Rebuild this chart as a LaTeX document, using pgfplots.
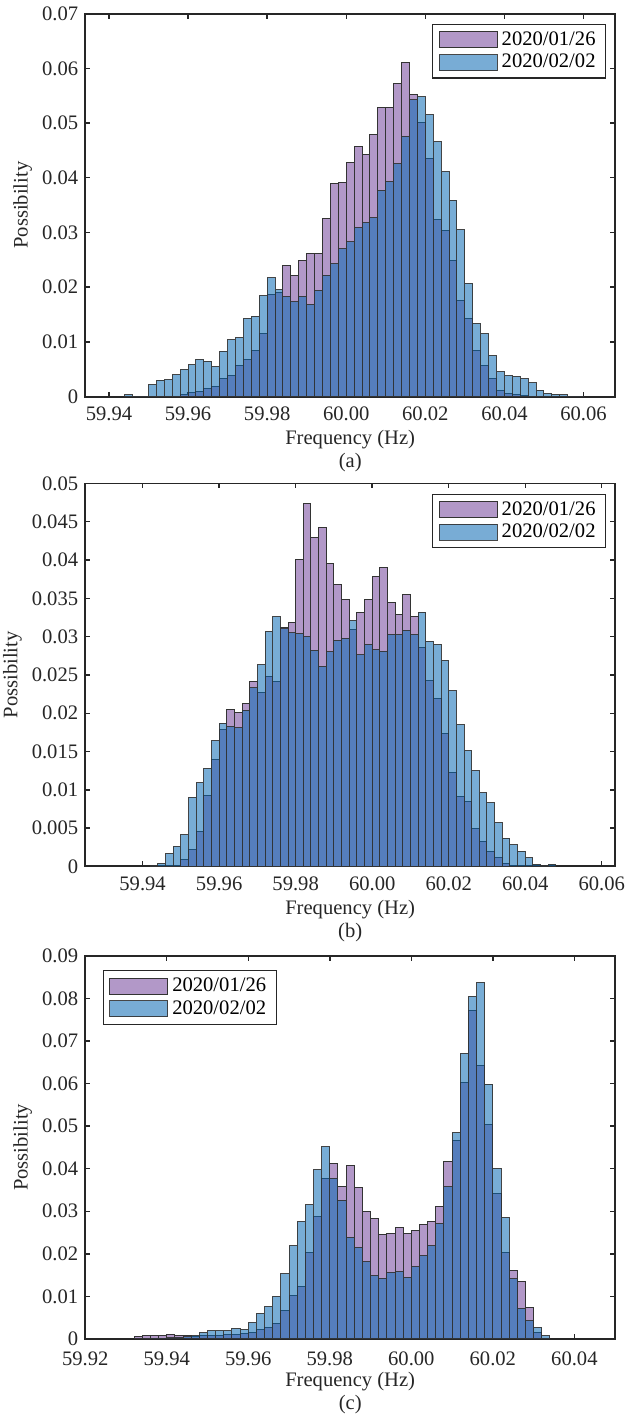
\documentclass[border=0pt]{standalone}
\usepackage{fontspec}
\setmainfont{Liberation Serif}
\usepackage{pgfplots}
\pgfplotsset{compat=1.18}
\usepackage{pgfplotstable}

\definecolor{purp}{RGB}{178,152,200}
\definecolor{blu}{RGB}{10,105,180}
\definecolor{axc}{RGB}{38,38,38}

% panel (a): left bin edge, 2020/01/26, 2020/02/02
\pgfplotstableread{
x p b
59.944 0 0.0003
59.946 0 0.0001
59.948 0 0.0001
59.950 0 0.0022
59.952 0 0.0030
59.954 0 0.0031
59.956 0 0.0040
59.958 0.0004 0.0050
59.960 0.0007 0.0058
59.962 0.0010 0.0068
59.964 0.0014 0.0065
59.966 0.0019 0.0055
59.968 0.0033 0.0083
59.970 0.0038 0.0104
59.972 0.0057 0.0108
59.974 0.0068 0.0143
59.976 0.0085 0.0147
59.978 0.0115 0.0184
59.980 0.0187 0.0217
59.982 0.0190 0.0195
59.984 0.0240 0.0183
59.986 0.0221 0.0173
59.988 0.0249 0.0183
59.990 0.0262 0.0169
59.992 0.0261 0.0194
59.994 0.0325 0.0222
59.996 0.0389 0.0243
59.998 0.0391 0.0270
60.000 0.0428 0.0283
60.002 0.0458 0.0309
60.004 0.0442 0.0318
60.006 0.0479 0.0327
60.008 0.0528 0.0377
60.010 0.0528 0.0393
60.012 0.0572 0.0426
60.014 0.0610 0.0476
60.016 0.0552 0.0543
60.018 0.0501 0.0548
60.020 0.0436 0.0515
60.022 0.0324 0.0466
60.024 0.0304 0.0411
60.026 0.0248 0.0359
60.028 0.0175 0.0305
60.030 0.0143 0.0207
60.032 0.0085 0.0134
60.034 0.0057 0.0115
60.036 0.0033 0.0075
60.038 0.0012 0.0045
60.040 0.0006 0.0038
60.042 0.0003 0.0037
60.044 0.0002 0.0033
60.046 0 0.0025
60.048 0 0.0012
60.050 0 0.0006
60.052 0 0.0004
60.054 0 0.0003
60.056 0 0.0001
60.058 0 0.0001
60.060 0 0
}\dataa

% panel (b)
\pgfplotstableread{
x p b
59.942 0 0.0001
59.944 0 0.0004
59.946 0 0.0017
59.948 0 0.0026
59.950 0.0009 0.0041
59.952 0.0022 0.0090
59.954 0.0046 0.0109
59.956 0.0092 0.0128
59.958 0.0139 0.0164
59.960 0.0179 0.0187
59.962 0.0205 0.0183
59.964 0.0201 0.0181
59.966 0.0213 0.0204
59.968 0.0241 0.0233
59.970 0.0227 0.0263
59.972 0.0248 0.0307
59.974 0.0242 0.0326
59.976 0.0312 0.0310
59.978 0.0318 0.0305
59.980 0.0401 0.0304
59.982 0.0474 0.0300
59.984 0.0429 0.0282
59.986 0.0443 0.0261
59.988 0.0395 0.0280
59.990 0.0368 0.0295
59.992 0.0349 0.0298
59.994 0.0309 0.0321
59.996 0.0331 0.0276
59.998 0.0349 0.0290
60.000 0.0378 0.0283
60.002 0.0390 0.0281
60.004 0.0345 0.0303
60.006 0.0329 0.0303
60.008 0.0355 0.0308
60.010 0.0326 0.0303
60.012 0.0286 0.0332
60.014 0.0243 0.0294
60.016 0.0219 0.0290
60.018 0.0174 0.0269
60.020 0.0123 0.0229
60.022 0.0091 0.0185
60.024 0.0085 0.0151
60.026 0.0049 0.0125
60.028 0.0033 0.0096
60.030 0.0020 0.0083
60.032 0.0011 0.0057
60.034 0.0004 0.0037
60.036 0 0.0028
60.038 0 0.0020
60.040 0 0.0011
60.042 0 0.0003
60.044 0 0.0001
60.046 0 0.0003
60.048 0 0
}\datab

% panel (c)
\pgfplotstableread{
x p b
59.932 0.0005 0
59.934 0.0008 0.0001
59.936 0.0007 0.0002
59.938 0.0008 0.0002
59.940 0.0010 0.0003
59.942 0.0008 0.0004
59.944 0.0008 0.0005
59.946 0.0006 0.0008
59.948 0.0007 0.0015
59.950 0.0008 0.0019
59.952 0.0009 0.0019
59.954 0.0010 0.0019
59.956 0.0011 0.0025
59.958 0.0013 0.0022
59.960 0.0016 0.0038
59.962 0.0023 0.0060
59.964 0.0026 0.0076
59.966 0.0037 0.0100
59.968 0.0067 0.0153
59.970 0.0102 0.0219
59.972 0.0123 0.0276
59.974 0.0204 0.0315
59.976 0.0287 0.0398
59.978 0.0377 0.0452
59.980 0.0413 0.0378
59.982 0.0358 0.0326
59.984 0.0407 0.0239
59.986 0.0356 0.0215
59.988 0.0299 0.0182
59.990 0.0282 0.0149
59.992 0.0245 0.0143
59.994 0.0248 0.0157
59.996 0.0262 0.0158
59.998 0.0247 0.0145
60.000 0.0256 0.0170
60.002 0.0270 0.0196
60.004 0.0276 0.0219
60.006 0.0312 0.0272
60.008 0.0416 0.0358
60.010 0.0467 0.0485
60.012 0.0603 0.0671
60.014 0.0771 0.0805
60.016 0.0642 0.0838
60.018 0.0505 0.0599
60.020 0.0341 0.0401
60.022 0.0204 0.0286
60.024 0.0160 0.0141
60.026 0.0135 0.0072
60.028 0.0074 0.0043
60.030 0.0015 0.0027
60.032 0.0002 0.0008
60.034 0 0
}\datac

\pgfplotsset{
  hist/.style={
    width=265pt, height=191.5pt, scale only axis,
    axis line style={line width=0.9pt, axc},
    every tick/.style={line width=0.7pt, axc},
    major tick length=2.5pt,
    tick align=inside,
    scaled ticks=false,
    /pgf/number format/assume math mode=true,
    xticklabel style={/pgf/number format/fixed, /pgf/number format/fixed zerofill,
      /pgf/number format/precision=2, text=axc, inner sep=0pt, yshift=-4.8pt},
    yticklabel style={/pgf/number format/fixed, /pgf/number format/precision=3, text=axc},
    ymin=0,
    xlabel style={at={(axis description cs:0.5,0)}, anchor=north, yshift=-16.5pt,
      inner sep=0pt, align=center, font=\fontsize{10.3}{11.5}\selectfont, text=axc},
    ylabel={Possibility},
    ylabel style={text=axc, inner sep=1.5pt},
    legend cell align=left,
    legend image code/.code={\draw[##1] (0pt,-4pt) rectangle (29pt,4pt);},
    legend style={draw=axc, line width=0.6pt, fill=white, inner xsep=3pt, inner ysep=1.5pt,
      row sep=-1pt, font=\fontsize{10.3}{12.4}\selectfont},
  },
  pbar/.style={ybar interval, fill=purp, draw=black!80, line width=0.5pt},
  bbar/.style={ybar interval, fill=blu, fill opacity=0.55, draw=black!80, draw opacity=0.9, line width=0.5pt},
}

\begin{document}
\begin{tikzpicture}[font=\fontsize{10.3}{12.4}\selectfont]
\begin{axis}[hist, at={(0pt,0pt)}, anchor=north west,
  xmin=59.934, xmax=60.068, ymax=0.07,
  xtick={59.94,59.96,59.98,60.00,60.02,60.04,60.06},
  ytick={0,0.01,0.02,0.03,0.04,0.05,0.06,0.07},
  xlabel={Frequency (Hz)\\(a)},
  legend style={at={(rel axis cs:0.983,0.973)}, anchor=north east}]
\addplot[pbar] table[x=x, y=p] {\dataa};
\addlegendentry{2020/01/26}
\addplot[bbar] table[x=x, y=b] {\dataa};
\addlegendentry{2020/02/02}
\end{axis}

\begin{axis}[hist, at={(0pt,-234.9pt)}, anchor=north west,
  xmin=59.925, xmax=60.0635, ymax=0.05,
  xtick={59.94,59.96,59.98,60.00,60.02,60.04,60.06},
  ytick={0,0.005,0.01,0.015,0.02,0.025,0.03,0.035,0.04,0.045,0.05},
  xlabel={Frequency (Hz)\\(b)},
  legend style={at={(rel axis cs:0.983,0.973)}, anchor=north east}]
\addplot[pbar] table[x=x, y=p] {\datab};
\addlegendentry{2020/01/26}
\addplot[bbar] table[x=x, y=b] {\datab};
\addlegendentry{2020/02/02}
\end{axis}

\begin{axis}[hist, at={(0pt,-471.2pt)}, anchor=north west,
  xmin=59.92, xmax=60.05, ymax=0.09,
  xtick={59.92,59.94,59.96,59.98,60.00,60.02,60.04},
  ytick={0,0.01,0.02,0.03,0.04,0.05,0.06,0.07,0.08,0.09},
  xticklabel style={yshift=-1.5pt},
  xlabel={Frequency (Hz)\\(c)},
  legend style={at={(rel axis cs:0.033,0.963)}, anchor=north west}]
\addplot[pbar] table[x=x, y=p] {\datac};
\addlegendentry{2020/01/26}
\addplot[bbar] table[x=x, y=b] {\datac};
\addlegendentry{2020/02/02}
\end{axis}
\end{tikzpicture}
\end{document}
